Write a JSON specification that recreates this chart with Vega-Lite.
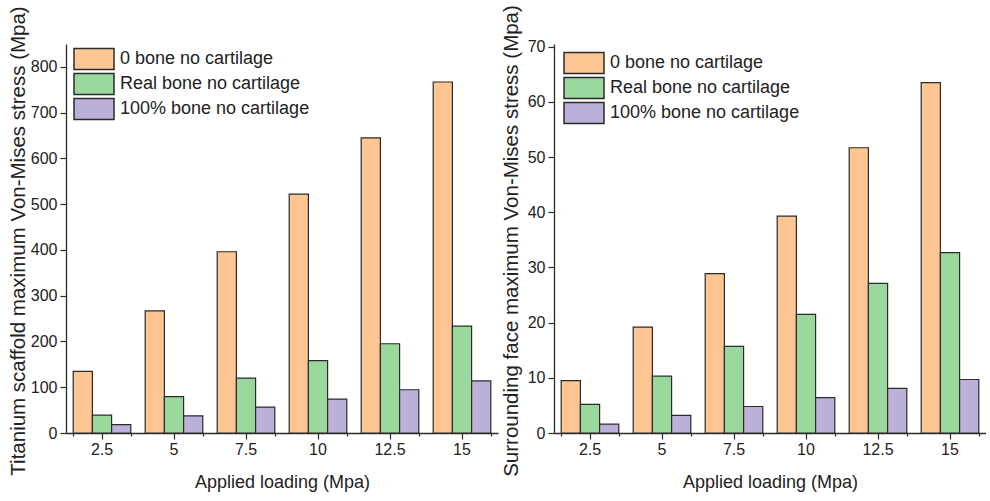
{
  "$schema": "https://vega.github.io/schema/vega-lite/v6.json",
  "background": "white",
  "padding": {"left": 8, "top": 4, "right": 0, "bottom": 3},
  "spacing": 3,
  "config": {
    "font": "Liberation Sans",
    "view": {"stroke": null},
    "axis": {
      "domainColor": "#2a2a2a", "domainWidth": 1.3,
      "tickColor": "#2a2a2a", "tickWidth": 1.2,
      "labelColor": "#222", "titleColor": "#222",
      "labelFont": "Liberation Sans", "titleFont": "Liberation Sans",
      "labelFontSize": 16, "titleFontSize": 18, "titleFontWeight": "normal",
      "grid": false
    },
    "legend": {"labelFont": "Liberation Sans", "labelFontSize": 18, "labelColor": "#222", "labelLimit": 400}
  },
  "datasets": {
    "titanium": [
      {"load": "2.5", "series": "0 bone no cartilage", "value": 134.5},
      {"load": "2.5", "series": "Real bone no cartilage", "value": 39},
      {"load": "2.5", "series": "100% bone no cartilage", "value": 18.5},
      {"load": "5", "series": "0 bone no cartilage", "value": 267},
      {"load": "5", "series": "Real bone no cartilage", "value": 79.5},
      {"load": "5", "series": "100% bone no cartilage", "value": 37.5},
      {"load": "7.5", "series": "0 bone no cartilage", "value": 396},
      {"load": "7.5", "series": "Real bone no cartilage", "value": 120},
      {"load": "7.5", "series": "100% bone no cartilage", "value": 56.5},
      {"load": "10", "series": "0 bone no cartilage", "value": 522},
      {"load": "10", "series": "Real bone no cartilage", "value": 158},
      {"load": "10", "series": "100% bone no cartilage", "value": 74},
      {"load": "12.5", "series": "0 bone no cartilage", "value": 645},
      {"load": "12.5", "series": "Real bone no cartilage", "value": 195},
      {"load": "12.5", "series": "100% bone no cartilage", "value": 94.5},
      {"load": "15", "series": "0 bone no cartilage", "value": 767},
      {"load": "15", "series": "Real bone no cartilage", "value": 233.5},
      {"load": "15", "series": "100% bone no cartilage", "value": 114}
    ],
    "surrounding": [
      {"load": "2.5", "series": "0 bone no cartilage", "value": 9.5},
      {"load": "2.5", "series": "Real bone no cartilage", "value": 5.2},
      {"load": "2.5", "series": "100% bone no cartilage", "value": 1.6},
      {"load": "5", "series": "0 bone no cartilage", "value": 19.2},
      {"load": "5", "series": "Real bone no cartilage", "value": 10.3},
      {"load": "5", "series": "100% bone no cartilage", "value": 3.2},
      {"load": "7.5", "series": "0 bone no cartilage", "value": 28.9},
      {"load": "7.5", "series": "Real bone no cartilage", "value": 15.7},
      {"load": "7.5", "series": "100% bone no cartilage", "value": 4.8},
      {"load": "10", "series": "0 bone no cartilage", "value": 39.3},
      {"load": "10", "series": "Real bone no cartilage", "value": 21.5},
      {"load": "10", "series": "100% bone no cartilage", "value": 6.4},
      {"load": "12.5", "series": "0 bone no cartilage", "value": 51.7},
      {"load": "12.5", "series": "Real bone no cartilage", "value": 27.1},
      {"load": "12.5", "series": "100% bone no cartilage", "value": 8.1},
      {"load": "15", "series": "0 bone no cartilage", "value": 63.5},
      {"load": "15", "series": "Real bone no cartilage", "value": 32.7},
      {"load": "15", "series": "100% bone no cartilage", "value": 9.7}
    ]
  },
  "hconcat": [
    {
      "width": 432, "height": 389,
      "data": {"name": "titanium"},
      "layer": [
        {
          "mark": {"type": "bar", "stroke": "#2b2b2b", "strokeWidth": 1.2},
          "encoding": {
            "x": {"field": "load", "type": "ordinal", "sort": ["2.5", "5", "7.5", "10", "12.5", "15"],
                  "scale": {"paddingInner": 0.2, "paddingOuter": 0.1},
                  "title": "Applied loading (Mpa)",
                  "axis": {"orient": "bottom", "labelAngle": 0, "tickSize": 6, "labelPadding": 2, "titlePadding": 16}},
            "xOffset": {"field": "series", "sort": ["0 bone no cartilage", "Real bone no cartilage", "100% bone no cartilage"]},
            "y": {"field": "value", "type": "quantitative",
                  "scale": {"domain": [0, 850], "nice": false},
                  "title": "Titanium scaffold maximum Von-Mises stress (Mpa)",
                  "axis": {"values": [0, 50, 100, 150, 200, 250, 300, 350, 400, 450, 500, 550, 600, 650, 700, 750, 800, 850],
                           "labelExpr": "datum.value % 100 === 0 ? datum.label : ''",
                           "tickSize": {"condition": {"test": "datum.value % 100 === 0", "value": 6}, "value": 3},
                           "labelPadding": 3, "titleFontSize": 20.5, "titleY": 196.5, "titlePadding": 2}},
            "color": {"field": "series", "type": "nominal",
                      "scale": {"domain": ["0 bone no cartilage", "Real bone no cartilage", "100% bone no cartilage"],
                                "range": ["#FDC692", "#9AD79C", "#BCB0DA"]},
                      "legend": {"title": null, "orient": "none", "legendX": 7, "legendY": 4,
                                 "symbolType": "M-1,-1.05H3V1.05H-1Z", "symbolSize": 400,
                                 "symbolStrokeColor": "#2b2b2b", "symbolStrokeWidth": 1.5,
                                 "labelOffset": 25, "rowPadding": -4}}
          }
        },
        {
          "mark": {"type": "bar", "opacity": 0},
          "encoding": {
            "x": {"field": "load", "type": "ordinal", "sort": ["2.5", "5", "7.5", "10", "12.5", "15"],
                  "axis": {"orient": "bottom", "tickBand": "extent", "labels": false, "title": null, "domain": false, "tickSize": 3}},
            "xOffset": {"field": "series", "sort": ["0 bone no cartilage", "Real bone no cartilage", "100% bone no cartilage"]},
            "y": {"field": "value", "type": "quantitative"}
          }
        }
      ],
      "resolve": {"axis": {"x": "independent"}}
    },
    {
      "width": 432, "height": 389,
      "data": {"name": "surrounding"},
      "layer": [
        {
          "mark": {"type": "bar", "stroke": "#2b2b2b", "strokeWidth": 1.2},
          "encoding": {
            "x": {"field": "load", "type": "ordinal", "sort": ["2.5", "5", "7.5", "10", "12.5", "15"],
                  "scale": {"paddingInner": 0.2, "paddingOuter": 0.1},
                  "title": "Applied loading (Mpa)",
                  "axis": {"orient": "bottom", "labelAngle": 0, "tickSize": 6, "labelPadding": 2, "titlePadding": 16}},
            "xOffset": {"field": "series", "sort": ["0 bone no cartilage", "Real bone no cartilage", "100% bone no cartilage"]},
            "y": {"field": "value", "type": "quantitative",
                  "scale": {"domain": [0, 70.5], "nice": false},
                  "title": "Surrounding face maximum Von-Mises stress (Mpa)",
                  "axis": {"values": [0, 5, 10, 15, 20, 25, 30, 35, 40, 45, 50, 55, 60, 65, 70],
                           "labelExpr": "datum.value % 10 === 0 ? datum.label : ''",
                           "tickSize": {"condition": {"test": "datum.value % 10 === 0", "value": 6}, "value": 3},
                           "labelPadding": 3, "titleFontSize": 20.5, "titleY": 196.5, "titlePadding": 6}},
            "color": {"field": "series", "type": "nominal",
                      "scale": {"domain": ["0 bone no cartilage", "Real bone no cartilage", "100% bone no cartilage"],
                                "range": ["#FDC692", "#9AD79C", "#BCB0DA"]},
                      "legend": {"title": null, "orient": "none", "legendX": 9, "legendY": 8,
                                 "symbolType": "M-1,-1.05H3V1.05H-1Z", "symbolSize": 400,
                                 "symbolStrokeColor": "#2b2b2b", "symbolStrokeWidth": 1.5,
                                 "labelOffset": 25, "rowPadding": -4}}
          }
        },
        {
          "mark": {"type": "bar", "opacity": 0},
          "encoding": {
            "x": {"field": "load", "type": "ordinal", "sort": ["2.5", "5", "7.5", "10", "12.5", "15"],
                  "axis": {"orient": "bottom", "tickBand": "extent", "labels": false, "title": null, "domain": false, "tickSize": 3}},
            "xOffset": {"field": "series", "sort": ["0 bone no cartilage", "Real bone no cartilage", "100% bone no cartilage"]},
            "y": {"field": "value", "type": "quantitative"}
          }
        }
      ],
      "resolve": {"axis": {"x": "independent"}}
    }
  ],
  "resolve": {"scale": {"color": "independent"}, "legend": {"color": "independent"}}
}
